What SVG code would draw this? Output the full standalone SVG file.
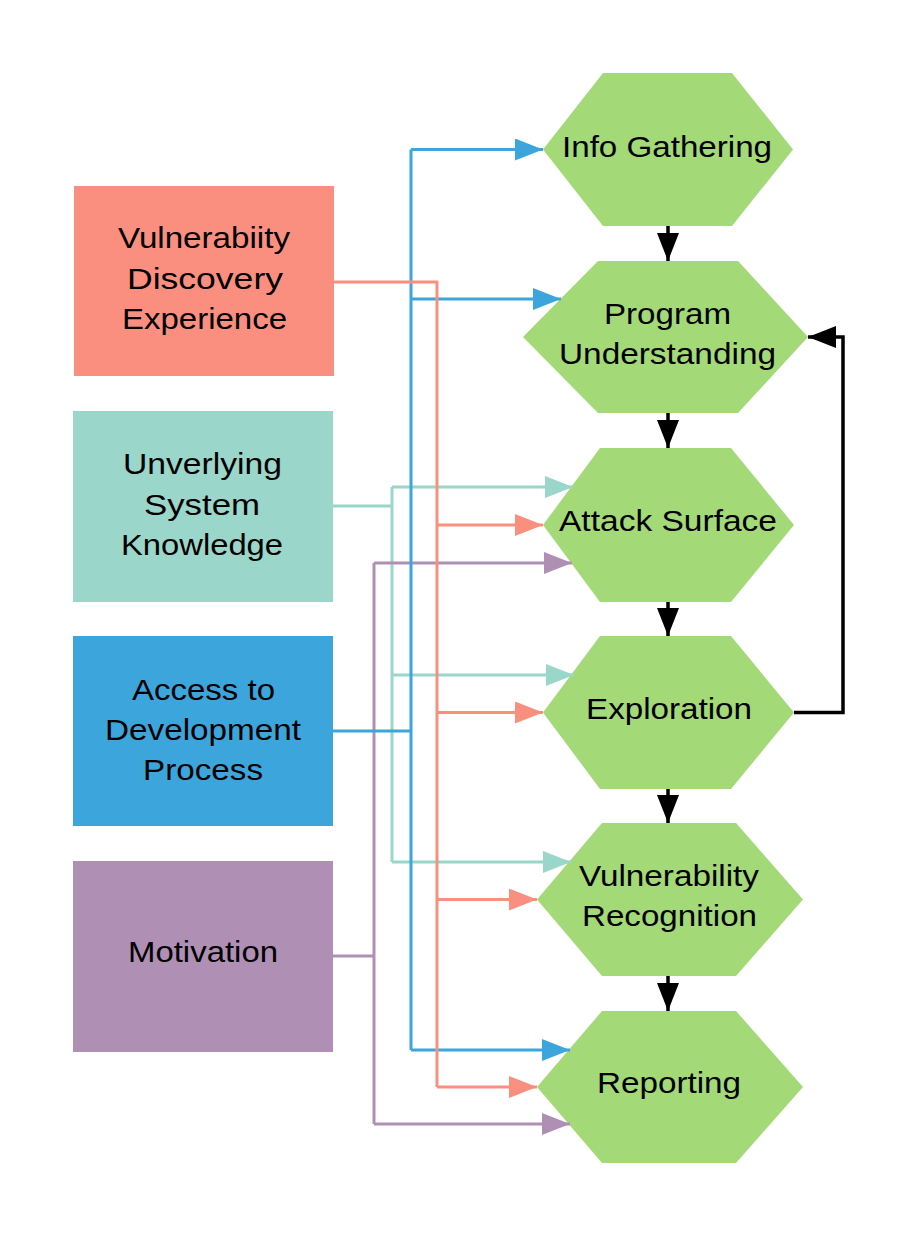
<svg xmlns="http://www.w3.org/2000/svg" width="919" height="1238" viewBox="0 0 919 1238">
<style>
text{font-family:"Liberation Sans",Arial,sans-serif;font-size:29px;fill:#000;text-anchor:middle}
.hex{fill:#a3d977}
.c{fill:none;stroke-width:3}
.s{stroke:#f98f7f}.t{stroke:#9ad6c9}.b{stroke:#3ca6dc}.p{stroke:#b08fb5}.k{stroke:#000;stroke-width:3.5}
</style>
<defs>
<marker id="ms" markerUnits="userSpaceOnUse" markerWidth="28" markerHeight="22" refX="28" refY="11" orient="auto"><path d="M0,0 L28,11 L0,22z" fill="#f98f7f"/></marker>
<marker id="mt" markerUnits="userSpaceOnUse" markerWidth="28" markerHeight="22" refX="28" refY="11" orient="auto"><path d="M0,0 L28,11 L0,22z" fill="#9ad6c9"/></marker>
<marker id="mb" markerUnits="userSpaceOnUse" markerWidth="28" markerHeight="22" refX="28" refY="11" orient="auto"><path d="M0,0 L28,11 L0,22z" fill="#3ca6dc"/></marker>
<marker id="mp" markerUnits="userSpaceOnUse" markerWidth="28" markerHeight="22" refX="28" refY="11" orient="auto"><path d="M0,0 L28,11 L0,22z" fill="#b08fb5"/></marker>
<marker id="mk" markerUnits="userSpaceOnUse" markerWidth="28" markerHeight="22" refX="28" refY="11" orient="auto"><path d="M0,0 L28,11 L0,22z" fill="#000"/></marker>
</defs>

<g id="n-vde"><rect x="74" y="186" width="260" height="190" fill="#fa8f80"/>
<text x="204" y="248" textLength="172" lengthAdjust="spacingAndGlyphs">Vulnerabiity</text>
<text x="205" y="289" textLength="156" lengthAdjust="spacingAndGlyphs">Discovery</text>
<text x="204.5" y="329" textLength="165" lengthAdjust="spacingAndGlyphs">Experience</text></g>

<g id="n-usk"><rect x="73" y="411" width="260" height="191" fill="#9ad6c9"/>
<text x="202.5" y="474" textLength="159" lengthAdjust="spacingAndGlyphs">Unverlying</text>
<text x="202" y="515" textLength="116" lengthAdjust="spacingAndGlyphs">System</text>
<text x="202" y="555" textLength="162" lengthAdjust="spacingAndGlyphs">Knowledge</text></g>

<g id="n-adp"><rect x="73" y="636" width="260" height="190" fill="#3ca6dc"/>
<text x="203.5" y="700" textLength="143" lengthAdjust="spacingAndGlyphs">Access to</text>
<text x="203" y="740" textLength="196" lengthAdjust="spacingAndGlyphs">Development</text>
<text x="203" y="780" textLength="120" lengthAdjust="spacingAndGlyphs">Process</text></g>

<g id="n-mot"><rect x="73" y="861" width="260" height="191" fill="#b08fb5"/>
<text x="203" y="962" textLength="150" lengthAdjust="spacingAndGlyphs">Motivation</text></g>

<g id="n-info"><polygon class="hex" points="543,149.5 603,73 732,73 793,149.5 732,226 603,226"/>
<text x="667" y="157" textLength="210" lengthAdjust="spacingAndGlyphs">Info Gathering</text></g>

<g id="n-prog"><polygon class="hex" points="523,337 598,261 738,261 808,337 738,413 598,413"/>
<text x="667.5" y="324" textLength="127" lengthAdjust="spacingAndGlyphs">Program</text>
<text x="667.5" y="364" textLength="217" lengthAdjust="spacingAndGlyphs">Understanding</text></g>

<g id="n-attack"><polygon class="hex" points="543,525 600,448 731,448 794,525 731,602 600,602"/>
<text x="668" y="531" textLength="218" lengthAdjust="spacingAndGlyphs">Attack Surface</text></g>

<g id="n-expl"><polygon class="hex" points="543,712.5 600,636 731,636 794,712.5 731,789 600,789"/>
<text x="669" y="719" textLength="166" lengthAdjust="spacingAndGlyphs">Exploration</text></g>

<g id="n-vr"><polygon class="hex" points="537,899.5 602,823 736,823 803,899.5 736,976 602,976"/>
<text x="669" y="886" textLength="180" lengthAdjust="spacingAndGlyphs">Vulnerability</text>
<text x="669.5" y="926" textLength="175" lengthAdjust="spacingAndGlyphs">Recognition</text></g>

<g id="n-rep"><polygon class="hex" points="537,1087 602,1011 736,1011 803,1087 736,1163 602,1163"/>
<text x="669" y="1093" textLength="144" lengthAdjust="spacingAndGlyphs">Reporting</text></g>

<g id="connectors">
<!-- teal -->
<path class="c t" d="M333,506 H392"/>
<path class="c t" d="M392,487 V862"/>
<path class="c t" d="M392,487 H573" marker-end="url(#mt)"/>
<path class="c t" d="M392,675 H574" marker-end="url(#mt)"/>
<path class="c t" d="M392,862 H571" marker-end="url(#mt)"/>
<!-- purple -->
<path class="c p" d="M333,956 H374"/>
<path class="c p" d="M374,563 V1124"/>
<path class="c p" d="M374,563 H572" marker-end="url(#mp)"/>
<path class="c p" d="M374,1124 H570" marker-end="url(#mp)"/>
<!-- blue -->
<path class="c b" d="M333,731 H411"/>
<path class="c b" d="M411,149.5 V1050"/>
<path class="c b" d="M411,149.5 H543" marker-end="url(#mb)"/>
<path class="c b" d="M411,299 H561" marker-end="url(#mb)"/>
<path class="c b" d="M411,1050 H570" marker-end="url(#mb)"/>
<!-- salmon -->
<path class="c s" d="M334,282 H437 V1087"/>
<path class="c s" d="M437,525 H543" marker-end="url(#ms)"/>
<path class="c s" d="M437,712.5 H543" marker-end="url(#ms)"/>
<path class="c s" d="M437,899.5 H537" marker-end="url(#ms)"/>
<path class="c s" d="M437,1087 H537" marker-end="url(#ms)"/>
<!-- black flow -->
<path class="c k" d="M668,226 V261" marker-end="url(#mk)"/>
<path class="c k" d="M668,413 V448" marker-end="url(#mk)"/>
<path class="c k" d="M668,602 V636" marker-end="url(#mk)"/>
<path class="c k" d="M668,789 V823" marker-end="url(#mk)"/>
<path class="c k" d="M668,976 V1011" marker-end="url(#mk)"/>
<path class="c k" d="M794,712.5 H843 V337 H808" marker-end="url(#mk)"/>
</g>
</svg>
